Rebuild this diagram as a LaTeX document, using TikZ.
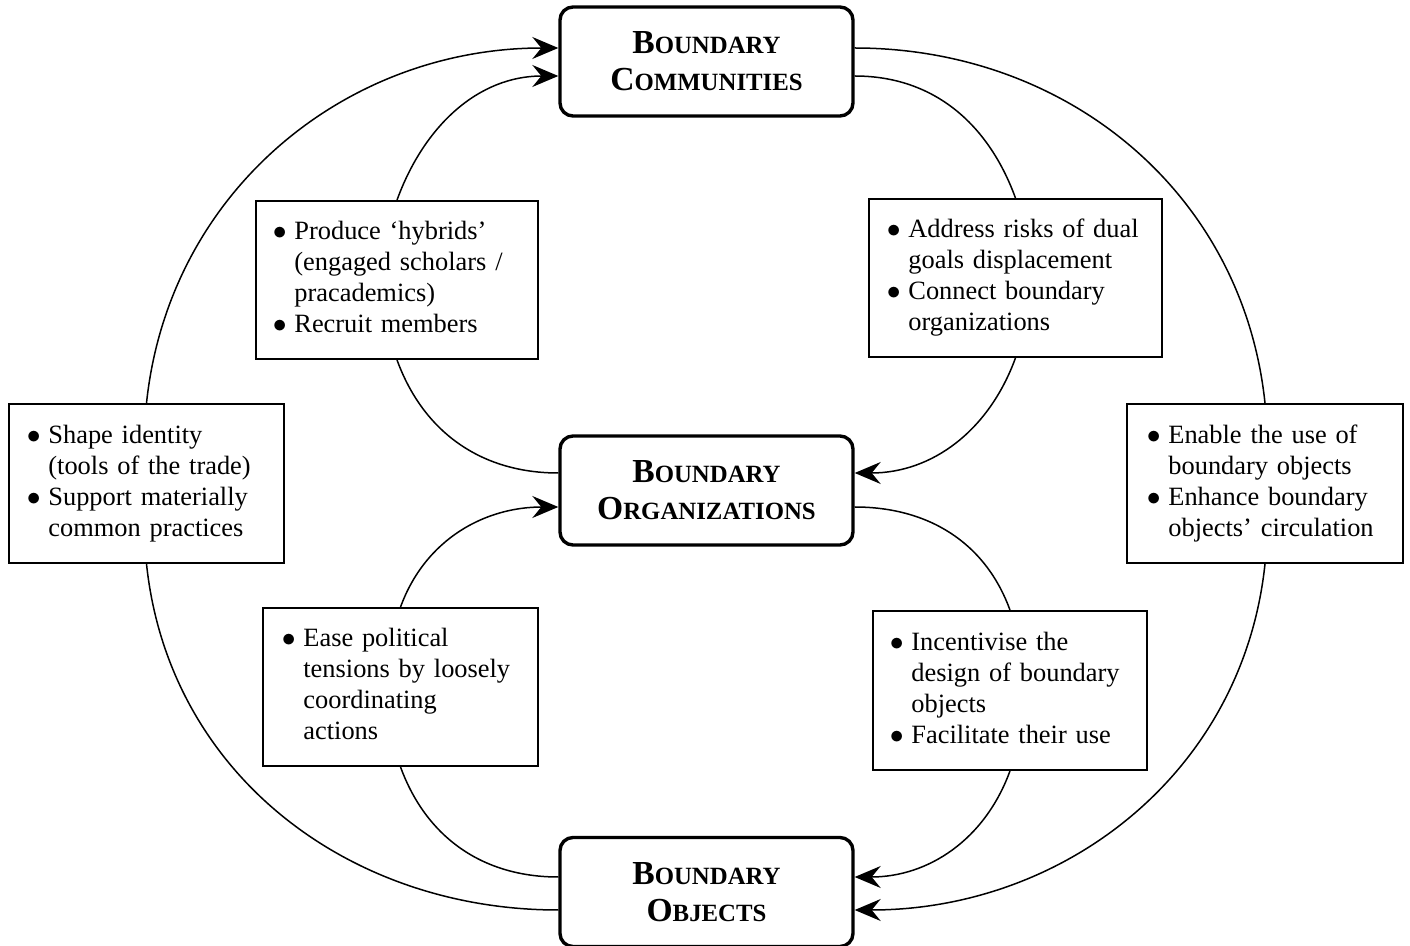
\documentclass[tikz,border=0pt]{standalone}
\usepackage{fontspec}
\usepackage{graphicx}
\setmainfont{Liberation Serif}
\usetikzlibrary{arrows.meta}
\newcommand\ttlpart[2]{{\fontsize{16.8}{18.5}\selectfont\bfseries #1}{\fontsize{12.4}{18.5}\selectfont\bfseries #2}}
\newcommand\bl{\makebox[9.2pt][l]{\hspace{-1.6pt}\scalebox{1.15}{$\bullet$}}}
\tikzset{
  mainbox/.style={draw, line width=1.7pt, rounded corners=6.5pt, minimum width=146.5pt,
    minimum height=54.5pt, align=center, inner sep=0pt, font=\fontsize{16.8}{18.5}\selectfont},
  infobox/.style={draw, line width=0.9pt, inner ysep=0pt, align=left,
    font=\fontsize{13.2}{15.5}\selectfont},
  conn/.style={line width=0.75pt},
  arr/.style={conn, -{Stealth[length=13pt,width=11pt,inset=4.5pt]}}
}
\begin{document}
\begin{tikzpicture}[x=0.5pt,y=-0.5pt]
\useasboundingbox (0,0) rectangle (1410,946);
% main boxes
\node[mainbox] (top) at (706.5,61.5) {\ttlpart{B}{OUNDARY}\\\ttlpart{C}{OMMUNITIES}};
\node[mainbox] (mid) at (706.5,490.5) {\ttlpart{B}{OUNDARY}\\\ttlpart{O}{RGANIZATIONS}};
\node[mainbox] (bot) at (706.5,892) {\ttlpart{B}{OUNDARY}\\\ttlpart{O}{BJECTS}};
% info boxes
\node[infobox, text width=116.5pt, inner xsep=10.5pt, minimum height=79.5pt] (L) at (146.5,483.5)
  {\begin{tabular}{@{}l@{}l@{}}\bl & Shape identity\\ & (tools of the trade)\\ \bl & Support materially\\ & common practices\end{tabular}};
\node[infobox, text width=115pt, inner xsep=11.5pt, minimum height=79.5pt] (R) at (1265,483.5)
  {\begin{tabular}{@{}l@{}l@{}}\bl & Enable the use of\\ & boundary objects\\ \bl & Enhance boundary\\ & objects’ circulation\end{tabular}};
\node[infobox, text width=121pt, inner xsep=10pt, minimum height=79pt] (UL) at (397,280)
  {\begin{tabular}{@{}l@{}l@{}}\bl & Produce ‘hybrids’\\ & (engaged scholars /\\ & pracademics)\\ \bl & Recruit members\end{tabular}};
\node[infobox, text width=125.5pt, inner xsep=10.5pt, minimum height=79pt] (UR) at (1015.5,278)
  {\begin{tabular}{@{}l@{}l@{}}\bl & Address risks of dual\\ & goals displacement\\ \bl & Connect boundary\\ & organizations\end{tabular}};
\node[infobox, text width=115.5pt, inner xsep=11pt, minimum height=79pt] (LL) at (400.5,687)
  {\begin{tabular}{@{}l@{}l@{}}\bl & Ease political\\ & tensions by loosely\\ & coordinating\\ & actions\end{tabular}};
\node[infobox, text width=117pt, inner xsep=10pt, minimum height=79.5pt] (LR) at (1010,690.5)
  {\begin{tabular}{@{}l@{}l@{}}\bl & Incentivise the\\ & design of boundary\\ & objects\\ \bl & Facilitate their use\end{tabular}};
% outer connectors
\draw[conn] ([yshift=-9pt]bot.west) to[out=180,in=-84] (L.south);
\draw[arr] (L.north) to[out=84,in=180] ([yshift=6.75pt]top.west);
\draw[conn] ([yshift=6.75pt]top.east) to[out=0,in=96] (R.north);
\draw[arr] (R.south) to[out=-96,in=0] ([yshift=-9pt]bot.east);
% inner connectors
\draw[conn] ([yshift=8.75pt]mid.west) to[out=180,in=-70] (UL.south);
\draw[arr] (UL.north) to[out=70,in=180] ([yshift=-7.25pt]top.west);
\draw[conn] ([yshift=-7.25pt]top.east) to[out=0,in=110] (UR.north);
\draw[arr] (UR.south) to[out=-110,in=0] ([yshift=8.75pt]mid.east);
\draw[conn] ([yshift=7.5pt]bot.west) to[out=180,in=-70] (LL.south);
\draw[arr] (LL.north) to[out=70,in=180] ([yshift=-8.25pt]mid.west);
\draw[conn] ([yshift=-8.25pt]mid.east) to[out=0,in=110] (LR.north);
\draw[arr] (LR.south) to[out=-110,in=0] ([yshift=7.5pt]bot.east);
\end{tikzpicture}
\end{document}
